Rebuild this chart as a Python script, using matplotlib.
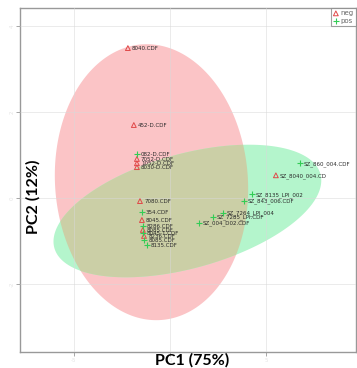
import numpy as np
import matplotlib
matplotlib.use("Agg")
import matplotlib.pyplot as plt
from matplotlib.patches import Polygon

# PCA scores
neg_names = ["8040.CDF", "452-D.CDF", "7052-D.CDF", "1052-D.CDF", "8030-D.CDF",
             "7080.CDF", "8045.CDF", "8085.CDF", "8236.CDF", "SZ_8040_004.CD"]
neg_x = [-2.19, -1.88, -1.72, -1.72, -1.72, -1.56, -1.46, -1.41, -1.35, 5.52]
neg_y = [3.49, 1.70, 0.91, 0.81, 0.72, -0.07, -0.51, -0.74, -0.88, 0.53]

pos_names = ["082-D.CDF", "354.CDF", "8286.CDF", "8045-1.CDF", "8085.CDF", "8135.CDF",
             "SZ_860_004.CDF", "SZ_8135_LPI_002", "SZ_843_006.CDF",
             "SZ_7264_LPI_004", "SZ_7285_LPI.CDF", "SZ_004_D02.CDF"]
pos_x = [-1.72, -1.46, -1.41, -1.41, -1.35, -1.20, 6.77, 4.27, 3.85, 2.76, 2.24, 1.51]
pos_y = [1.02, -0.33, -0.65, -0.81, -0.98, -1.09, 0.81, 0.09, -0.07, -0.35, -0.44, -0.58]

# confidence ellipses: centre and two conjugate half-diameters (data units)
neg_ell = [(-0.96, 0.37), (5.03, 0.0), (-0.25, 3.21)]
pos_ell = [(0.91, -0.30), (6.93, 0.86), (-0.79, 1.28)]

x_ticks = [-5, 0, 5]
y_ticks = [-2, 0, 2, 4]


def ellipse_pts(ell, n=200):
    c, u, v = ell
    t = np.linspace(0, 2 * np.pi, n)
    xs = c[0] + u[0] * np.cos(t) + v[0] * np.sin(t)
    ys = c[1] + u[1] * np.cos(t) + v[1] * np.sin(t)
    return np.column_stack([xs, ys])


fig = plt.figure(figsize=(3.57, 3.68), dpi=100)
ax = fig.add_axes([0.056, 0.0435, 0.941, 0.9345])

red_patch = Polygon(ellipse_pts(neg_ell), closed=True, fc="#fbc4c6", ec="none", zorder=0.5)
green_patch = Polygon(ellipse_pts(pos_ell), closed=True, fc="#b4f5cc", ec="none", zorder=0.6)
overlap = Polygon(ellipse_pts(neg_ell), closed=True, fc="#cbcfa6", ec="none", zorder=0.7)
ax.add_patch(red_patch)
ax.add_patch(green_patch)
ax.add_patch(overlap)
overlap.set_clip_path(green_patch)

ax.scatter(neg_x, neg_y, marker="^", s=12, facecolors="none", edgecolors="#e04848",
           linewidths=0.7, zorder=3, label="neg")
ax.scatter(pos_x, pos_y, marker="+", s=16, color="#33cc55", linewidths=0.8,
           zorder=3, label="pos")

for name, x, y in zip(neg_names, neg_x, neg_y):
    ax.annotate(name, (x, y), xytext=(3, -1.2), textcoords="offset points",
                fontsize=4.0, color="#2a2a2a", zorder=4)
for name, x, y in zip(pos_names, pos_x, pos_y):
    ax.annotate(name, (x, y), xytext=(3, -1.2), textcoords="offset points",
                fontsize=4.0, color="#2a2a2a", zorder=4)

ax.set_xlim(-7.81, 9.69)
ax.set_ylim(-3.58, 4.42)
ax.set_xticks(x_ticks)
ax.set_yticks(y_ticks)
ax.set_xticklabels([str(v) for v in x_ticks], fontsize=4, color="#e4e4e4")
ax.set_yticklabels([str(v) for v in y_ticks], fontsize=4, color="#e4e4e4",
                   rotation=90, va="center")
ax.tick_params(length=3, width=0.6, color="#999999", pad=1)
ax.grid(True, color="#d8d8d8", linewidth=0.6, alpha=0.6, zorder=1)
ax.set_axisbelow(False)
for sp in ax.spines.values():
    sp.set_color("#999999")
    sp.set_linewidth(1.0)

# axis titles sit over the frame, as in the source image
fig.text(192 / 357, 1 - 360 / 368, "PC1 (75%)", fontsize=11.5, fontweight="bold",
         family="Lato", ha="center", va="center")
fig.text(33 / 357, 1 - 197 / 368, "PC2 (12%)", fontsize=11.5, fontweight="bold",
         family="Lato", ha="center", va="center", rotation=90)

leg = ax.legend(loc="upper right", fontsize=5, frameon=True, fancybox=False,
                borderpad=0.3, handlelength=0.8, handletextpad=0.3,
                borderaxespad=0.0, labelspacing=0.2)
leg.get_frame().set_edgecolor("#888888")
leg.get_frame().set_linewidth(0.8)
for t in leg.get_texts():
    t.set_color("#666666")

plt.savefig("out.png", dpi=100)
